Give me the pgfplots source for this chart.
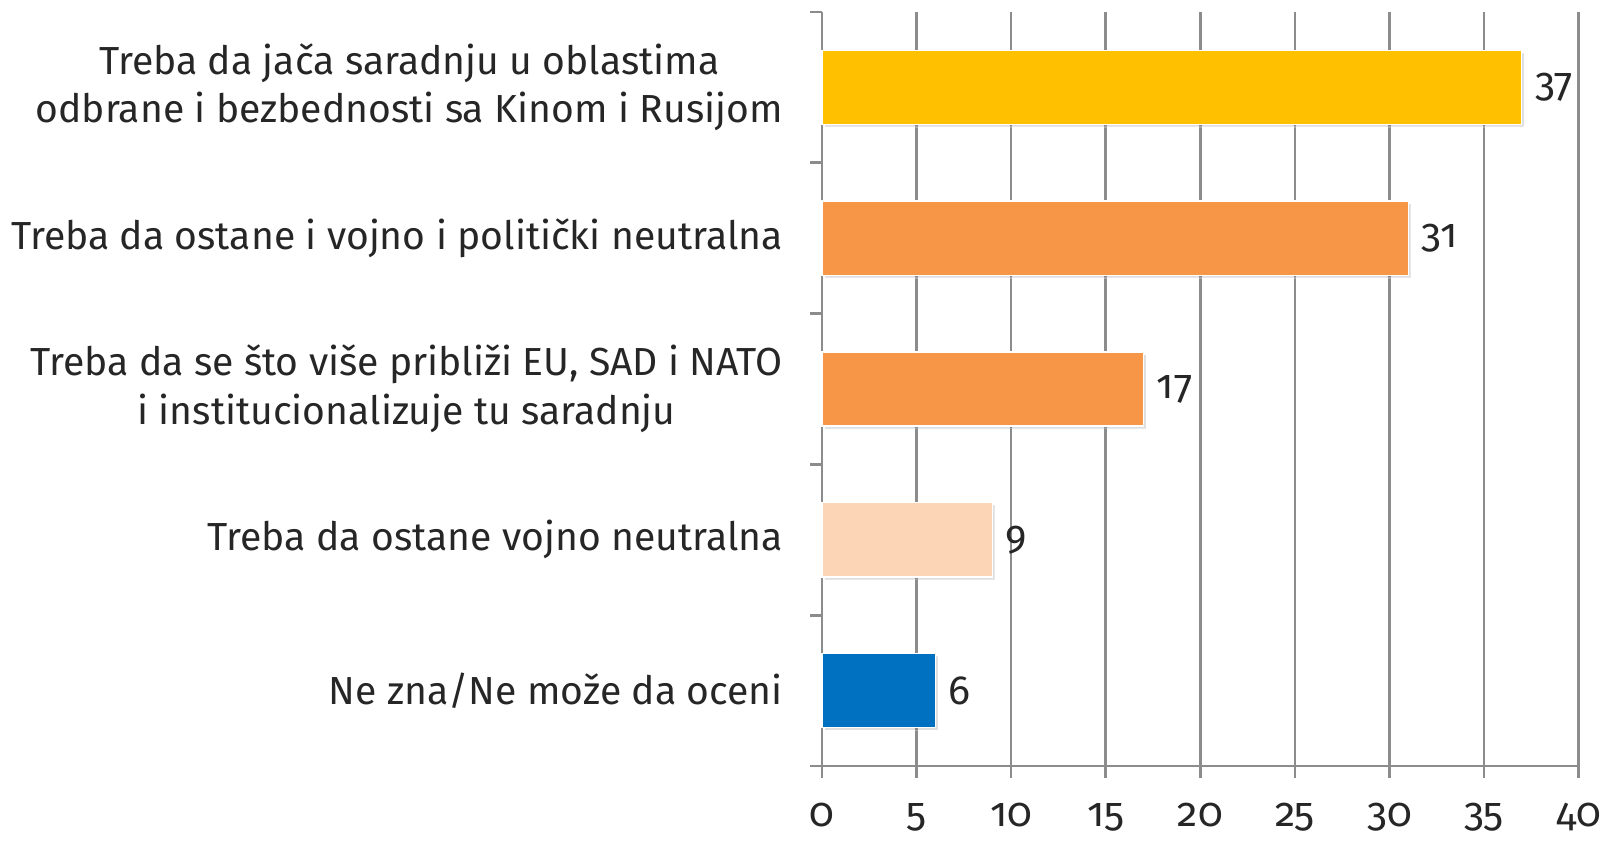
\documentclass[border=0pt]{standalone}
\usepackage{pgfplots}
\pgfplotsset{compat=1.18}
\usetikzlibrary{shadows}
\usepackage{fontspec}
\setmainfont{Fira Sans}[Numbers=OldStyle]
\definecolor{txt}{HTML}{262626}
\definecolor{gridc}{HTML}{8C8C8C}
\definecolor{cyel}{HTML}{FFC000}
\definecolor{corg}{HTML}{F79646}
\definecolor{cpch}{HTML}{FBD5B5}
\definecolor{cblu}{HTML}{0070C0}

\begin{document}
\begin{tikzpicture}
\begin{axis}[
  xbar, bar shift=0pt, bar width=22.4pt,
  scale only axis, width=228.2pt, height=227.5pt,
  xmin=0, xmax=40, xtick={0,5,...,40},
  ymin=-0.5, ymax=4.5, y dir=reverse,
  ytick={-0.5,0.5,...,4.5}, yticklabels={},
  extra y ticks={0,1,2,3,4},
  extra y tick labels={
    {Treba da jača saradnju u oblastima\\odbrane i bezbednosti sa Kinom i Rusijom},
    {Treba da ostane i vojno i politički neutralna},
    {Treba da se što više približi EU, SAD i NATO\\i institucionalizuje tu saradnju},
    {Treba da ostane vojno neutralna},
    {Ne zna/Ne može da oceni}},
  extra y tick style={major tick length=0pt,
    yticklabel style={align=center, xshift=-8.3pt}},
  axis x line*=bottom, axis y line*=left,
  axis line style={gridc, line width=0.8pt, -},
  tick align=outside, major tick length=3.6pt,
  tick style={gridc, line width=0.8pt},
  xmajorgrids, grid style={gridc, line width=0.8pt},
  tick label style={font=\fontsize{11.8}{14.7}\selectfont, text=txt},
  xticklabel style={yshift=-4pt, font=\fontsize{12.3}{14.7}\selectfont},
  /pgf/number format/assume math mode=true,
  nodes near coords, nodes near coords align={horizontal},
  every node near coord/.append style={font=\fontsize{12.3}{14.7}\selectfont, text=txt, anchor=west, xshift=0.5pt},
  clip=false,
]
\addplot[fill=cyel, draw=white, line width=0.4pt, drop shadow={shadow xshift=0.8pt, shadow yshift=-0.8pt, opacity=0.25}] coordinates {(37,0)};
\addplot[fill=corg, draw=white, line width=0.4pt, drop shadow={shadow xshift=0.8pt, shadow yshift=-0.8pt, opacity=0.25}] coordinates {(31,1)};
\addplot[fill=corg, draw=white, line width=0.4pt, drop shadow={shadow xshift=0.8pt, shadow yshift=-0.8pt, opacity=0.25}] coordinates {(17,2)};
\addplot[fill=cpch, draw=white, line width=0.4pt, drop shadow={shadow xshift=0.8pt, shadow yshift=-0.8pt, opacity=0.25}] coordinates {(9,3)};
\addplot[fill=cblu, draw=white, line width=0.4pt, drop shadow={shadow xshift=0.8pt, shadow yshift=-0.8pt, opacity=0.25}] coordinates {(6,4)};
\end{axis}
\path (current axis.north) ++(0,3.6pt);
\end{tikzpicture}
\end{document}
